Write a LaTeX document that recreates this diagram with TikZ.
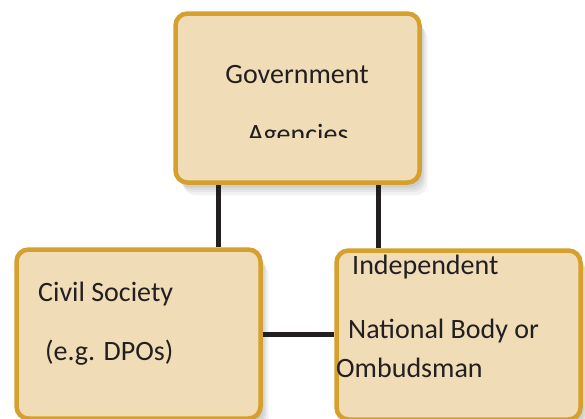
\documentclass[tikz,border=0pt]{standalone}
\usepackage{fontspec}
\setmainfont{Carlito}
\usetikzlibrary{shapes,positioning,calc,shadows}
\usepackage{xcolor}
\definecolor{boxfill}{RGB}{240,220,182}
\definecolor{boxgold}{RGB}{213,160,46}
\definecolor{linkdark}{RGB}{35,31,32}

\begin{document}
\begin{tikzpicture}[
        x=1pt, y=-1pt,
        softshadow/.style={drop shadow={shadow xshift=#1, shadow yshift=-1.6*#1, opacity=0.05, fill=black}},
        box/.style={rectangle, draw=boxgold, fill=boxfill, line width=4.5pt, rounded corners=12pt, minimum width=244pt, minimum height=169pt,
            softshadow=8pt, softshadow=6pt, softshadow=4.5pt, softshadow=3pt, softshadow=1.5pt},
        label/.style={anchor=base west, inner sep=0pt, text=linkdark, font=\fontsize{28}{34}\selectfont},
        link/.style={draw=linkdark, line width=5pt}
    ]
        \useasboundingbox (0,0) rectangle (585,418);

        % Boxes
        \node[box] (gov) at (297.5,98) {};
        \node[box] (civ) at (138.5,334) {};
        \node[box] (ind) at (458.5,335) {};

        % Links
        \draw[link] ([xshift=-79.5pt]gov.south) -- ([xshift=-79.5pt]gov.south |- civ.north);
        \draw[link] ([xshift=81pt]gov.south) -- ([xshift=81pt]gov.south |- ind.north);
        \draw[link] (civ.east) -- (civ.east -| ind.west);

        % Texts
        \node[label, anchor=base] (govtxt) at (297,83) {Government};
        \begin{scope}
            \clip (180,100) rectangle (415,137);
            \node[label, anchor=base] (agtxt) at (298,143) {Agencies};
        \end{scope}
        \node[label] (civtxt) at (38,301) {Civil Society};
        \node[label] (dpotxt) at (45,360) {(e.g. DPOs)};
        \node[label] (indtxt) at (352,274) {Independent};
        \node[label] (nattxt) at (348,338) {National Body or};
        \node[label] (ombtxt) at (336,377) {Ombudsman};

    \end{tikzpicture}
\end{document}
